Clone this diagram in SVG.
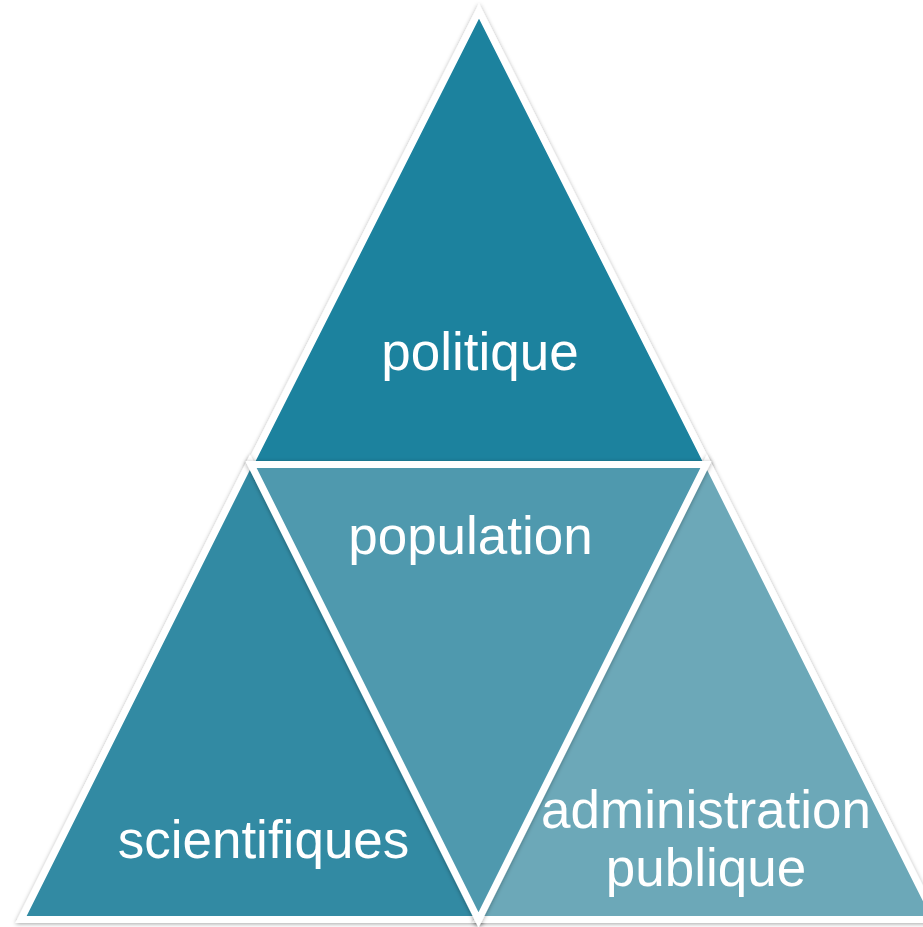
<svg xmlns="http://www.w3.org/2000/svg" width="923" height="927" viewBox="0 0 923 927">
  <defs>
    <filter id="sh" x="-10%" y="-10%" width="120%" height="120%">
      <feDropShadow dx="0" dy="1" stdDeviation="2" flood-color="#000" flood-opacity="0.35"/>
    </filter>
  </defs>
  <style>
    .tri { stroke: #ffffff; stroke-width: 7; stroke-linejoin: miter; stroke-miterlimit: 10; filter: url(#sh); }
    .lbl { font-family: "Liberation Sans", Arial, sans-serif; font-size: 53px; fill: #ffffff; text-anchor: middle; }
  </style>
  <rect width="923" height="927" fill="#ffffff"/>
  <g id="connectors"></g>
  <g id="politique">
    <polygon class="tri" points="479,11 708,464.5 250,464.5" fill="#1c829e"/>
    <text class="lbl" x="480" y="370">politique</text>
  </g>
  <g id="scientifiques">
    <polygon class="tri" points="250,462 479,919.5 21,919.5" fill="#318aa3"/>
    <text class="lbl" x="263.5" y="858">scientifiques</text>
  </g>
  <g id="administration">
    <polygon class="tri" points="707,462 936,919.5 478,919.5" fill="#6ca8b8"/>
    <text class="lbl" x="706" y="828">administration</text>
    <text class="lbl" x="706" y="886">publique</text>
  </g>
  <g id="population">
    <polygon class="tri" points="251,464.5 706,464.5 478.5,920" fill="#4f99ae"/>
    <text class="lbl" x="470.5" y="554">population</text>
  </g>
</svg>
